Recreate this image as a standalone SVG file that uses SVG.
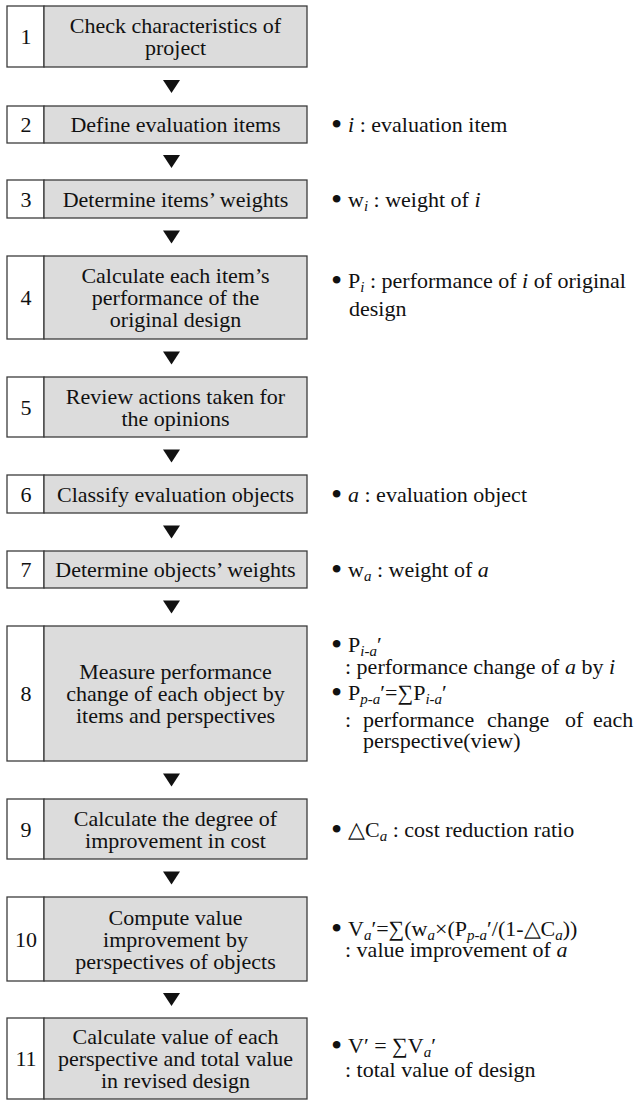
<svg xmlns="http://www.w3.org/2000/svg" width="637" height="1101" viewBox="0 0 637 1101" font-family="'Liberation Serif', 'Times New Roman', serif">
<style>
.num{fill:#ffffff;stroke:#3c3c3c;stroke-width:1.3}
.box{fill:#dcdcdc;stroke:#3c3c3c;stroke-width:1.3}
text{font-family:'Liberation Serif','Times New Roman',serif;font-size:22px;fill:#111111}
.c{text-anchor:middle}
.it{font-style:italic}
.sb{font-size:15px;font-style:italic}
.bl{font-size:32px}
.arr{fill:#111111}
</style>
<rect width="637" height="1101" fill="#ffffff"/>
<g id="connectors">
<polygon class="arr" points="163,80 180,80 171.5,93"/>
<polygon class="arr" points="163,155 180,155 171.5,168"/>
<polygon class="arr" points="163,230.5 180,230.5 171.5,243.5"/>
<polygon class="arr" points="163,351.5 180,351.5 171.5,364.5"/>
<polygon class="arr" points="163,449.5 180,449.5 171.5,462.5"/>
<polygon class="arr" points="163,525.5 180,525.5 171.5,538.5"/>
<polygon class="arr" points="163,600.5 180,600.5 171.5,613.5"/>
<polygon class="arr" points="163,773.5 180,773.5 171.5,786.5"/>
<polygon class="arr" points="163,871.5 180,871.5 171.5,884.5"/>
<polygon class="arr" points="163,993 180,993 171.5,1006"/>
</g>
<g id="node1">
<rect class="num" x="7" y="6" width="37" height="61"/>
<rect class="box" x="44" y="6" width="263" height="61"/>
<text class="c" x="26" y="44">1</text>
<text class="c" x="175.5" y="33">Check characteristics of</text>
<text class="c" x="175.5" y="55">project</text>
</g>
<g id="node2">
<rect class="num" x="7" y="106" width="37" height="37"/>
<rect class="box" x="44" y="106" width="263" height="37"/>
<text class="c" x="26" y="132">2</text>
<text class="c" x="175.5" y="132">Define evaluation items</text>
</g>
<g id="node3">
<rect class="num" x="7" y="180" width="37" height="38"/>
<rect class="box" x="44" y="180" width="263" height="38"/>
<text class="c" x="26" y="206.5">3</text>
<text class="c" x="175.5" y="206.5">Determine items’ weights</text>
</g>
<g id="node4">
<rect class="num" x="7" y="256" width="37" height="83"/>
<rect class="box" x="44" y="256" width="263" height="83"/>
<text class="c" x="26" y="305">4</text>
<text class="c" x="175.5" y="283">Calculate each item’s</text>
<text class="c" x="175.5" y="305">performance of the</text>
<text class="c" x="175.5" y="327">original design</text>
</g>
<g id="node5">
<rect class="num" x="7" y="377" width="37" height="60"/>
<rect class="box" x="44" y="377" width="263" height="60"/>
<text class="c" x="26" y="414.5">5</text>
<text class="c" x="175.5" y="403.5">Review actions taken for</text>
<text class="c" x="175.5" y="425.5">the opinions</text>
</g>
<g id="node6">
<rect class="num" x="7" y="475" width="37" height="38"/>
<rect class="box" x="44" y="475" width="263" height="38"/>
<text class="c" x="26" y="501.5">6</text>
<text class="c" x="175.5" y="501.5">Classify evaluation objects</text>
</g>
<g id="node7">
<rect class="num" x="7" y="551" width="37" height="37"/>
<rect class="box" x="44" y="551" width="263" height="37"/>
<text class="c" x="26" y="577">7</text>
<text class="c" x="175.5" y="577">Determine objects’ weights</text>
</g>
<g id="node8">
<rect class="num" x="7" y="626" width="37" height="135"/>
<rect class="box" x="44" y="626" width="263" height="135"/>
<text class="c" x="26" y="701">8</text>
<text class="c" x="175.5" y="679">Measure performance</text>
<text class="c" x="175.5" y="701">change of each object by</text>
<text class="c" x="175.5" y="723">items and perspectives</text>
</g>
<g id="node9">
<rect class="num" x="7" y="799" width="37" height="60"/>
<rect class="box" x="44" y="799" width="263" height="60"/>
<text class="c" x="26" y="836.5">9</text>
<text class="c" x="175.5" y="825.5">Calculate the degree of</text>
<text class="c" x="175.5" y="847.5">improvement in cost</text>
</g>
<g id="node10">
<rect class="num" x="7" y="897" width="37" height="84"/>
<rect class="box" x="44" y="897" width="263" height="84"/>
<text class="c" x="26" y="946.5">10</text>
<text class="c" x="175.5" y="924.5">Compute value</text>
<text class="c" x="175.5" y="946.5">improvement by</text>
<text class="c" x="175.5" y="968.5">perspectives of objects</text>
</g>
<g id="node11">
<rect class="num" x="7" y="1018" width="37" height="81"/>
<rect class="box" x="44" y="1018" width="263" height="81"/>
<text class="c" x="26" y="1066">11</text>
<text class="c" x="175.5" y="1044">Calculate value of each</text>
<text class="c" x="175.5" y="1066">perspective and total value</text>
<text class="c" x="175.5" y="1088">in revised design</text>
</g>
<g id="note2">
<text class="bl" x="331" y="135">•</text>
<text x="348" y="132"><tspan class="it">i</tspan> : evaluation item</text>
</g>
<g id="note3">
<text class="bl" x="331" y="210">•</text>
<text x="348" y="207">w<tspan class="sb" dy="4">i</tspan><tspan dy="-4"> : weight of </tspan><tspan class="it">i</tspan></text>
</g>
<g id="note4">
<text class="bl" x="331" y="291">•</text>
<text x="348" y="288">P<tspan class="sb" dy="4">i</tspan><tspan dy="-4"> : performance of </tspan><tspan class="it">i</tspan> of original</text>
<text x="349" y="316">design</text>
</g>
<g id="note6">
<text class="bl" x="331" y="505">•</text>
<text x="348" y="502"><tspan class="it">a</tspan> : evaluation object</text>
</g>
<g id="note7">
<text class="bl" x="331" y="580">•</text>
<text x="348" y="577">w<tspan class="sb" dy="4">a</tspan><tspan dy="-4"> : weight of </tspan><tspan class="it">a</tspan></text>
</g>
<g id="note8">
<text class="bl" x="331" y="655">•</text>
<text x="348" y="652">P<tspan class="sb" dy="4">i-a</tspan><tspan dy="-4">′</tspan></text>
<text x="345" y="674">: performance change of <tspan class="it">a</tspan> by <tspan class="it">i</tspan></text>
<text class="bl" x="331" y="703">•</text>
<text x="348" y="700">P<tspan class="sb" dy="4">p-a</tspan><tspan dy="-4">′=∑P</tspan><tspan class="sb" dy="4">i-a</tspan><tspan dy="-4">′</tspan></text>
<text x="345" y="727">:</text>
<text x="363" y="727">performance</text>
<text x="487" y="727">change</text>
<text x="565" y="727">of</text>
<text x="593" y="727">each</text>
<text x="363" y="748">perspective(view)</text>
</g>
<g id="note9">
<text class="bl" x="331" y="840">•</text>
<text x="348" y="837">△C<tspan class="sb" dy="4">a</tspan><tspan dy="-4"> : cost reduction ratio</tspan></text>
</g>
<g id="note10">
<text class="bl" x="331" y="939">•</text>
<text x="348" y="936">V<tspan class="sb" dy="4">a</tspan><tspan dy="-4">′=∑(w</tspan><tspan class="sb" dy="4">a</tspan><tspan dy="-4">×(P</tspan><tspan class="sb" dy="4">p-a</tspan><tspan dy="-4">′/(1-△C</tspan><tspan class="sb" dy="4">a</tspan><tspan dy="-4">))</tspan></text>
<text x="345" y="957">: value improvement of <tspan class="it">a</tspan></text>
</g>
<g id="note11">
<text class="bl" x="331" y="1056">•</text>
<text x="348" y="1053">V′ = ∑V<tspan class="sb" dy="4">a</tspan><tspan dy="-4">′</tspan></text>
<text x="345" y="1077">: total value of design</text>
</g>
</svg>
